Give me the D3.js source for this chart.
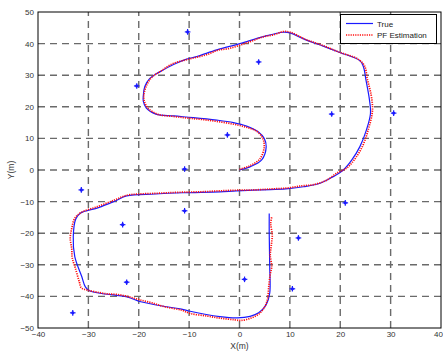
<!DOCTYPE html>
<html>
<head>
<meta charset="utf-8">
<script src="https://cdn.jsdelivr.net/npm/d3@7"></script>
<style>
  html, body { margin: 0; padding: 0; background: #fff; }
  svg { display: block; font-family: "Liberation Sans", Arial, sans-serif; }
</style>
</head>
<body>
<svg id="chart" width="443" height="354"></svg>
<script>
// Reference trajectory (x, y in metres)
const truePath = [
  [0,0],[2.1,1],[4.4,3.2],[5.3,7.4],[4.9,10],[3.7,12.1],[1.4,13.9],[-1.2,15],[-4.5,15.8],
  [-9.2,16.6],[-13.1,17.1],[-16.6,17.7],[-18.5,19.6],[-19.1,21.8],[-19.1,23.4],[-18.8,26.4],
  [-17.8,29],[-15.8,31.1],[-13.1,33.4],[-10.5,35.1],[-8.5,35.9],[-4.5,38],[0.1,40],[4.7,42.2],
  [8.7,43.6],[10,43.4],[13.3,41.1],[16.6,39.2],[19.9,37.2],[23.9,34.6],[24.6,32.7],[25.1,28.5],
  [25.8,22.2],[26,17.9],[25.2,12.7],[23.9,7.4],[22.3,3.2],[20.6,0],[18.6,-2.1],[16,-4.2],
  [12.7,-5.3],[9.7,-5.9],[6.1,-6.2],[-0.6,-6.6],[-3.9,-6.9],[-11.2,-7.2],[-16.8,-7.6],
  [-22.4,-8.2],[-24.7,-9.8],[-28,-11.9],[-31.6,-13.7],[-32.5,-15.5],[-33,-21.1],[-32.7,-27.4],
  [-31.3,-33.8],[-30.6,-37],[-29.8,-38.2],[-27.7,-39],[-22.3,-40.2],[-19.6,-41.7],[-14.8,-43.2],
  [-11.5,-44],[-9.8,-44.7],[-3.9,-46.4],[-0.4,-46.8],[2.1,-46.3],[3.8,-45.2],[5.3,-42.6],
  [6,-39],[6,-30.6],[5.9,-20],[5.9,-13.8]
];

// Particle filter estimate of the same trajectory
const pfPath = [
  [0,0.2],[2.0,1.3],[4.0,3.4],[4.9,7.2],[4.6,10.1],[3.4,12.3],[1.2,13.6],[-1.5,14.6],[-4.6,15.4],
  [-7,15.9],[-9.4,16.3],[-11.2,16.6],[-13.4,17],[-16.2,17.6],[-18.2,19.6],[-18.9,21.8],[-19,23.4],
  [-18.6,26.2],[-17.5,29.2],[-15.6,31.3],[-13.3,33.6],[-10.8,34.8],[-8.7,35.6],[-6.3,36.6],
  [-4.3,37.9],[-2.2,38.4],[0.3,39.6],[2.6,40.9],[4.6,42.1],[6.8,42.8],[8.7,43.8],[10.1,43.6],
  [13.0,41.4],[16.4,39.5],[19.6,37.4],[23.5,35.1],[24.8,33],[25.4,28.6],[26.1,24],[26.4,20.2],
  [26.3,17.5],[25.6,13],[24.5,7.8],[22.9,3.5],[21.2,0.5],[19.5,-0.8],[17.2,-3.3],[14.5,-4.7],
  [12.4,-5.0],[9.5,-5.7],[6.3,-6.0],[3.0,-6.3],[-0.6,-6.4],[-4.0,-6.6],[-7.5,-6.9],[-11.0,-7.0],
  [-14.2,-7.2],[-16.9,-7.4],[-20.0,-7.6],[-22.4,-8.0],[-24.8,-9.5],[-28.2,-11.6],[-31.4,-13.4],
  [-32.7,-15.3],[-33.3,-18.5],[-33.6,-21.5],[-33.3,-25],[-33.2,-27.8],[-32.6,-31],[-31.8,-35.4],
  [-31.4,-37.3],[-30.2,-38.0],[-27.8,-38.8],[-26.3,-39.2],[-24.2,-39.4],[-22.0,-40.1],[-20,-41.0],
  [-17.5,-42.0],[-14.8,-43.3],[-11.4,-44.4],[-9.8,-45.4],[-6.5,-46.2],[-3.8,-46.9],[-1.0,-47.4],
  [0.3,-47.6],[2.2,-46.9],[3.9,-45.5],[5.1,-43.0],[5.6,-40.5],[5.8,-37],[6.1,-33],[6.4,-30.5],
  [6.1,-27],[6.3,-24],[6.5,-20.5],[6.2,-17],[6.4,-14.9]
];

// Landmark positions
const landmarks = [
  [-10.3,43.7],[3.8,34.2],[-20.4,26.6],[18.3,17.7],[30.6,18],[-2.4,11.1],[-10.9,0.3],
  [-31.4,-6.3],[21,-10.4],[-10.9,-12.9],[-23.2,-17.3],[11.7,-21.5],[1,-34.6],[-22.4,-35.5],
  [10.5,-37.6],[-33.1,-45.2]
];

const xTicks = [-40,-30,-20,-10,0,10,20,30,40];
const yTicks = [-50,-40,-30,-20,-10,0,10,20,30,40,50];
const legendLabels = ["True", "PF Estimation"];

const svg = d3.select("#chart");
const plotL = 38, plotR = 441, plotT = 12, plotB = 328;

const x = d3.scaleLinear().domain([-40, 40]).range([plotL, plotR]);
const y = d3.scaleLinear().domain([-50, 50]).range([plotB, plotT]);

// dashed grid
const grid = svg.append("g")
  .attr("stroke", "#6a6a6a").attr("stroke-width", 1.4)
  .attr("stroke-dasharray", "7,5").attr("fill", "none");
xTicks.slice(1, -1).forEach(t => {
  grid.append("line").attr("x1", x(t)).attr("x2", x(t)).attr("y1", plotB).attr("y2", plotT);
});
yTicks.slice(1, -1).forEach(t => {
  grid.append("line").attr("x1", plotL).attr("x2", plotR).attr("y1", y(t)).attr("y2", y(t));
});

// axes
const xAxis = d3.axisBottom(x).tickValues(xTicks).tickSize(0).tickPadding(4);
const yAxis = d3.axisLeft(y).tickValues(yTicks).tickSize(0).tickPadding(4);
const gx = svg.append("g").attr("transform", `translate(0,${plotB})`).call(xAxis);
const gy = svg.append("g").attr("transform", `translate(${plotL},0)`).call(yAxis);
[gx, gy].forEach(g => {
  g.select(".domain").remove();
  g.selectAll("text").attr("font-size", 8).attr("fill", "#333")
    .attr("font-family", "'Liberation Sans', Arial, sans-serif");
});
gx.selectAll("text").attr("dy", "0.6em");
// keep the last x label inside the window
gx.selectAll(".tick").filter(d => d === 40).select("text").attr("text-anchor", "end").attr("x", 1.5);

// line series
const line = d3.line().x(d => x(d[0])).y(d => y(d[1])).curve(d3.curveCatmullRom.alpha(0.5));
svg.append("path").datum(truePath).attr("d", line)
  .attr("fill", "none").attr("stroke", "#1a1aff").attr("stroke-width", 1.2)
  .attr("stroke-linejoin", "round");
svg.append("path").datum(pfPath).attr("d", line)
  .attr("fill", "none").attr("stroke", "#ff1010").attr("stroke-width", 1.7)
  .attr("stroke-dasharray", "1.2,1.1");

// landmarks: blue plus with a dot
const lm = svg.append("g").attr("stroke", "#1a1aff").attr("fill", "#1a1aff");
landmarks.forEach(d => {
  const cx = x(d[0]), cy = y(d[1]);
  lm.append("line").attr("x1", cx - 2.8).attr("x2", cx + 2.8).attr("y1", cy).attr("y2", cy).attr("stroke-width", 1.2);
  lm.append("line").attr("x1", cx).attr("x2", cx).attr("y1", cy - 2.8).attr("y2", cy + 2.8).attr("stroke-width", 1.2);
  lm.append("circle").attr("cx", cx).attr("cy", cy).attr("r", 1.6).attr("stroke", "none");
});

// frame
svg.append("rect").attr("x", plotL).attr("y", plotT)
  .attr("width", plotR - plotL).attr("height", plotB - plotT)
  .attr("fill", "none").attr("stroke", "#000").attr("stroke-width", 1);

// axis titles
svg.append("text").attr("x", (plotL + plotR) / 2).attr("y", 349)
  .attr("text-anchor", "middle").attr("font-size", 8.5).attr("fill", "#333").text("X(m)");
svg.append("text").attr("transform", `translate(14,${(plotT + plotB) / 2}) rotate(-90)`)
  .attr("text-anchor", "middle").attr("font-size", 8.5).attr("fill", "#333").text("Y(m)");

// legend
const lg = svg.append("g");
lg.append("rect").attr("x", 340.5).attr("y", 14.5).attr("width", 96).attr("height", 29)
  .attr("fill", "#fff").attr("stroke", "#000").attr("stroke-width", 1);
const styles = [
  { stroke: "#1a1aff", width: 1.2, dash: null },
  { stroke: "#ff1010", width: 1.7, dash: "1.2,1.1" }
];
legendLabels.forEach((label, i) => {
  const ly = 23.5 + i * 11.5;
  lg.append("line").attr("x1", 346).attr("x2", 373).attr("y1", ly).attr("y2", ly)
    .attr("stroke", styles[i].stroke).attr("stroke-width", styles[i].width)
    .attr("stroke-dasharray", styles[i].dash);
  lg.append("text").attr("x", 377).attr("y", ly + 3).attr("font-size", 8)
    .attr("fill", "#222").text(label);
});
</script>
</body>
</html>
